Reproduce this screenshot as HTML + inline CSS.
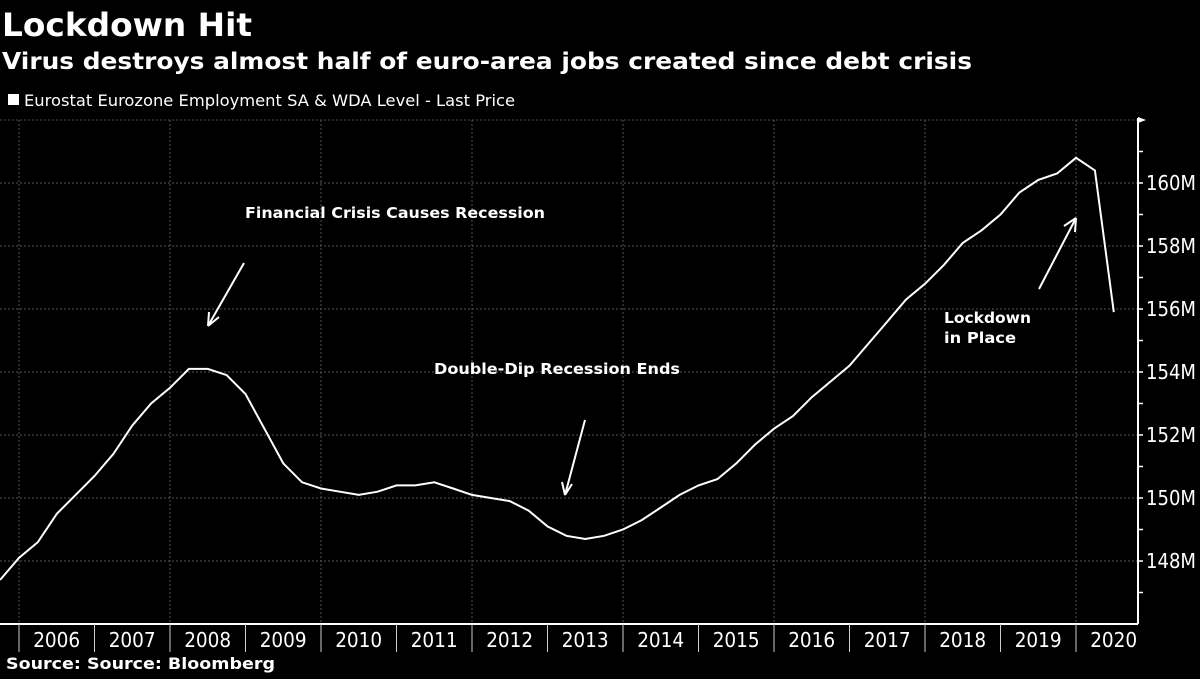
<!DOCTYPE html>
<html><head><meta charset="utf-8"><style>
body{margin:0;background:#000;width:1200px;height:674px;overflow:hidden;font-family:"Liberation Sans","DejaVu Sans",sans-serif;}
</style></head><body>
<svg width="1200" height="674" viewBox="0 0 1200 674" font-family="DejaVu Sans, Liberation Sans, sans-serif">
<rect width="1200" height="674" fill="#000"/>
<text x="2" y="36" fill="#fff" font-size="32" font-weight="bold" textLength="250" lengthAdjust="spacingAndGlyphs">Lockdown Hit</text>
<text x="2" y="69" fill="#fff" font-size="23" font-weight="bold" textLength="970" lengthAdjust="spacingAndGlyphs">Virus destroys almost half of euro-area jobs created since debt crisis</text>
<rect x="8" y="94" width="11" height="11" fill="#fff"/>
<text x="24" y="106" fill="#fff" font-size="16" textLength="491" lengthAdjust="spacingAndGlyphs">Eurostat Eurozone Employment SA &amp; WDA Level - Last Price</text>
<g id="grid"></g>
<g id="axes"></g>
<polyline id="line" fill="none" stroke="#fff" stroke-width="2"/>
<g fill="#fff" font-size="15" font-weight="bold">
<text x="245" y="218" textLength="300" lengthAdjust="spacingAndGlyphs">Financial Crisis Causes Recession</text>
<text x="434" y="374" textLength="246" lengthAdjust="spacingAndGlyphs">Double-Dip Recession Ends</text>
<text x="944" y="323" textLength="87" lengthAdjust="spacingAndGlyphs">Lockdown</text>
<text x="944" y="343" textLength="72" lengthAdjust="spacingAndGlyphs">in Place</text>
</g>
<g stroke="#fff" stroke-width="2" fill="none">
<path d="M244 263 L208 326 M208 326 L209 312 M208 326 L219 317"/>
<path d="M585 420 L565 495 M565 495 L562 482 M565 495 L572 484"/>
<path d="M1039 289 L1076 218 M1076 218 L1064 226 M1076 218 L1075 232"/>
</g>
<text x="6" y="669" fill="#fff" font-size="16" font-weight="bold" textLength="269" lengthAdjust="spacingAndGlyphs">Source: Source: Bloomberg</text>
</svg>
<script>
const values=[147.4,148.1,148.6,149.5,150.1,150.7,151.4,152.3,153.0,153.5,154.1,154.1,153.9,153.3,152.2,151.1,150.5,150.3,150.2,150.1,150.2,150.4,150.4,150.5,150.3,150.1,150.0,149.9,149.6,149.1,148.8,148.7,148.8,149.0,149.3,149.7,150.1,150.4,150.6,151.1,151.7,152.2,152.6,153.2,153.7,154.2,154.9,155.6,156.3,156.8,157.4,158.1,158.5,159.0,159.7,160.1,160.3,160.8,160.4,155.9];
const startTime=2005.75;
const years=[2006,2007,2008,2009,2010,2011,2012,2013,2014,2015,2016,2017,2018,2019,2020];
const yTicks=[148,150,152,154,156,158,160];
const ns='http://www.w3.org/2000/svg';
const X=t=>19+(t-2006)*75.5;
const Y=v=>561-(v-148)*31.5;
const grid=document.getElementById('grid'),axes=document.getElementById('axes');
function mk(tag,attrs,parent){const e=document.createElementNS(ns,tag);for(const k in attrs)e.setAttribute(k,attrs[k]);parent.appendChild(e);return e;}
for(let v=148;v<=162;v+=2){const l=mk('line',{x1:0,x2:1138,y1:Y(v),y2:Y(v),stroke:'#555','stroke-dasharray':'2,2','stroke-width':1},grid);

}
for(let y=2006;y<=2020;y+=2){const l=mk('line',{x1:X(y),x2:X(y),y1:120,y2:624,stroke:'#555','stroke-dasharray':'2,2','stroke-width':1},grid);

}
const ax=mk('line',{x1:1138,x2:1138,y1:118,y2:624,stroke:'#fff','stroke-width':2},axes);


mk('path',{d:'M1138 117 L1146 120 L1138 123 Z',fill:'#fff'},axes);
for(let v=147;v<=161;v+=1){const t=mk('line',{x1:1138,x2:1143,y1:Y(v),y2:Y(v),stroke:'#fff','stroke-width':1.5},axes);

}
yTicks.forEach(v=>{const t=mk('text',{x:1146,y:Y(v)+7,fill:'#fff','font-size':20,textLength:50,lengthAdjust:'spacingAndGlyphs'},axes);t.textContent=v+'M';

});
const xa=mk('line',{x1:0,x2:1138,y1:624,y2:624,stroke:'#fff','stroke-width':2},axes);


years.forEach(y=>{const s=mk('line',{x1:X(y),x2:X(y),y1:624,y2:652,stroke:'#ccc','stroke-width':1},axes);


const t=mk('text',{x:X(y)+37.7,y:647,fill:'#fff','font-size':20,'text-anchor':'middle',textLength:47,lengthAdjust:'spacingAndGlyphs'},axes);t.textContent=y;

});
document.getElementById('line').setAttribute('points',values.map((v,i)=>X(startTime+i*0.25).toFixed(1)+','+Y(v).toFixed(1)).join(' '));
</script>
</body></html>
